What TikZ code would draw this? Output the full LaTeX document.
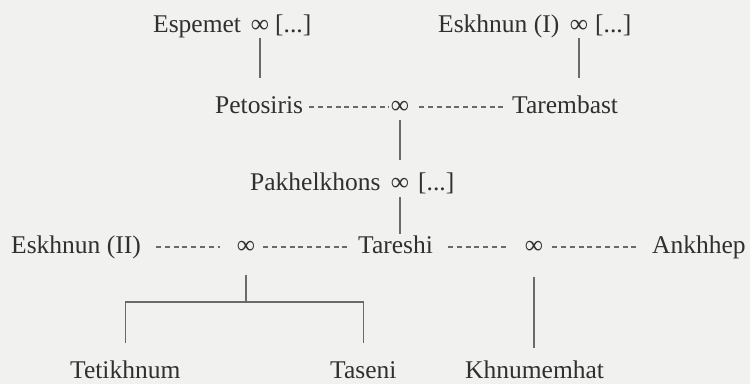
\documentclass[tikz,border=0pt]{standalone}
\usepackage{fontspec}
\setmainfont{Liberation Serif}
\definecolor{bg}{HTML}{F1F1EF}
\definecolor{ink}{HTML}{303030}
\definecolor{rule}{HTML}{6A6A6A}
\begin{document}
\begin{tikzpicture}[x=1pt,y=-1pt,
  txt/.style={inner sep=0pt,anchor=base west,text height=18.4pt,text depth=5.6pt,
    font=\fontsize{25.5}{30}\selectfont,text=ink},
  btxt/.style={txt,text depth=0pt},
  mar/.style={txt,anchor=base},
  ln/.style={draw=rule,line width=1.4pt},
  dl/.style={draw=rule,line width=1.1pt,dash pattern=on 5pt off 3.8pt}]
\fill[bg] (0,0) rectangle (750,384);
\useasboundingbox (0,0) rectangle (750,384);
% row 1
\node[txt] (esp) at (153,32) {Espemet};
\node[mar] (m1) at (260,32) {∞};
\node[txt] (u1) at (275,32) {[...]};
\node[txt] (esk1) at (438,32) {Eskhnun (I)};
\node[mar] (m2) at (579,32) {∞};
\node[txt] (u2) at (595,32) {[...]};
% row 2
\node[txt] (peto) at (215,113) {Petosiris};
\node[mar] (mP) at (400,113) {∞};
\node[txt] (tar) at (512,113) {Tarembast};
% row 3
\node[txt] (pak) at (250,190) {Pakhelkhons};
\node[mar] (m3) at (400,190) {∞};
\node[txt] (u3) at (418,190) {[...]};
% row 4
\node[txt] (esk2) at (11,253) {Eskhnun (II)};
\node[mar] (mL) at (246,253) {∞};
\node[txt] (tare) at (358,253) {Tareshi};
\node[mar] (mR) at (534,253) {∞};
\node[txt] (ankh) at (652,253) {Ankhhep};
% row 5
\node[btxt] (teti) at (70,378) {Tetikhnum};
\node[btxt] (tas) at (330,378) {Taseni};
\node[btxt] (khn) at (465,378) {Khnumemhat};
\coordinate (jL) at (246,302);
% connectors
\draw[ln,shorten >=16pt] (m1.south) -- (m1.south |- peto.north);
\draw[ln,shorten >=16pt] (m2.south) -- (m2.south |- tar.north);
\draw[dl,shorten <=6pt,shorten >=2pt] ([yshift=6pt]peto.base east) -- ([yshift=6pt]mP.base west);
\draw[dl,shorten <=10pt,shorten >=5pt] ([yshift=6pt]mP.base east) -- ([yshift=6pt]tar.base west);
\draw[ln,shorten <=1.5pt,shorten >=11.6pt] (mP.south) -- (m3.north);
\draw[ln,shorten <=1.5pt] (m3.south) -- (m3.south |- tare.north);
\draw[dl,shorten <=15pt,shorten >=17pt] ([yshift=6pt]esk2.base east) -- ([yshift=6pt]mL.base west);
\draw[dl,shorten <=8pt,shorten >=8pt] ([yshift=6pt]mL.base east) -- ([yshift=6pt]tare.base west);
\draw[dl,shorten <=15pt,shorten >=17pt] ([yshift=6pt]tare.base east) -- ([yshift=6pt]mR.base west);
\draw[dl,shorten <=9pt,shorten >=14pt] ([yshift=6pt]mR.base east) -- ([yshift=6pt]ankh.base west);
\draw[ln,shorten <=16.4pt] (mL.south) -- (jL);
\draw[ln] ([yshift=16pt]teti.north) |- (jL) -| ([yshift=16pt]tas.north);
\draw[ln,shorten <=18.4pt,shorten >=11pt] (mR.south) -- (mR.south |- khn.north);
\end{tikzpicture}
\end{document}
